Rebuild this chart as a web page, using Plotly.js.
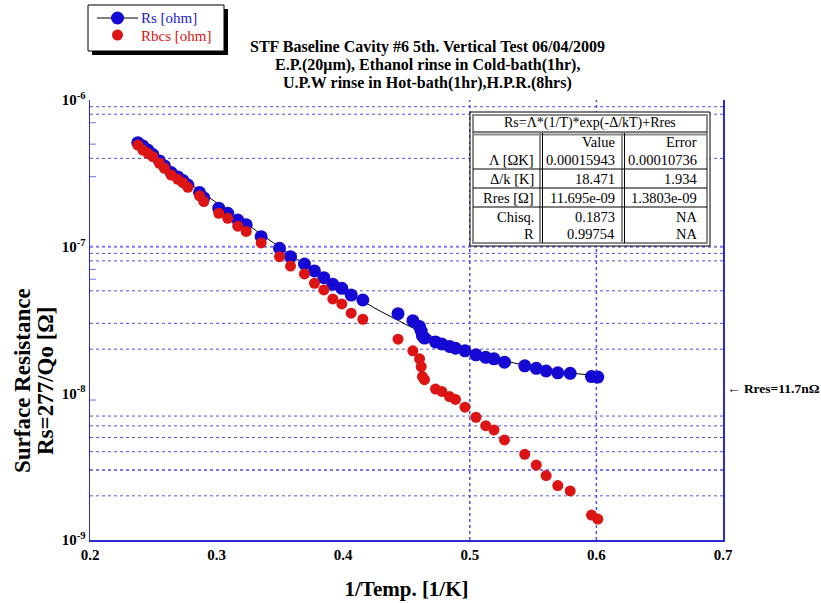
<!DOCTYPE html>
<html>
<head>
<meta charset="utf-8">
<script src="https://cdn.plot.ly/plotly-3.0.1.min.js"></script>
<style>html,body{margin:0;padding:0;background:#fff;}#chart{width:821px;height:603px;}</style>
</head>
<body>
<div id="chart"></div>
<script>
// ---- data ----
const invT = [0.2378,0.2417,0.2457,0.2496,0.2549,0.2588,0.2641,0.2694,0.2733,0.2773,
              0.2865,0.2899,0.3017,0.3088,0.3167,0.3234,0.3352,0.3497,0.3584,0.3694,
              0.3773,0.3847,0.3918,0.3989,0.4063,0.4155,0.4433,0.4550,0.4603,0.4616,
              0.4626,0.4642,0.4729,0.4779,0.4840,0.4887,0.4962,0.5049,0.5126,0.5191,
              0.5274,0.5434,0.5525,0.5603,0.5695,0.5793,0.5961,0.6011];
const rsOhm = [5.12e-7,4.86e-7,4.56e-7,4.25e-7,3.84e-7,3.55e-7,3.20e-7,2.99e-7,2.83e-7,2.63e-7,
               2.34e-7,2.15e-7,1.83e-7,1.69e-7,1.52e-7,1.41e-7,1.17e-7,9.75e-8,8.55e-8,7.62e-8,
               6.83e-8,6.15e-8,5.54e-8,5.20e-8,4.68e-8,4.33e-8,3.49e-8,3.13e-8,2.85e-8,2.66e-8,
               2.46e-8,2.38e-8,2.24e-8,2.17e-8,2.09e-8,2.03e-8,1.95e-8,1.83e-8,1.76e-8,1.72e-8,
               1.63e-8,1.54e-8,1.48e-8,1.42e-8,1.38e-8,1.37e-8,1.30e-8,1.29e-8];
const rbcsOhm = [4.93e-7,4.56e-7,4.33e-7,4.11e-7,3.70e-7,3.42e-7,3.08e-7,2.88e-7,2.73e-7,2.54e-7,
                 2.22e-7,2.03e-7,1.69e-7,1.56e-7,1.38e-7,1.27e-7,1.06e-7,8.55e-8,7.38e-8,6.52e-8,
                 5.63e-8,5.07e-8,4.40e-8,4.07e-8,3.52e-8,3.20e-8,2.34e-8,1.95e-8,1.72e-8,1.52e-8,
                 1.30e-8,1.24e-8,1.07e-8,1.03e-8,9.50e-9,9.09e-9,8.04e-9,6.87e-9,6.02e-9,5.63e-9,
                 4.81e-9,3.84e-9,3.24e-9,2.75e-9,2.35e-9,2.16e-9,1.48e-9,1.39e-9];
const seriesNames = ['Rs [ohm]', 'Rbcs [ohm]'];
// fit parameters (from the fit table)
const fitA = 0.00015943, fitDk = 18.471, fitRres = 11.695e-9;
const fitRange = [0.237, 0.603];
const xTicks = [0.2,0.3,0.4,0.5,0.6,0.7];
const yTickVals = [1e-9,1e-8,1e-7,1e-6];
const yTickText = ['10<sup>-9</sup>','10<sup>-8</sup>','10<sup>-7</sup>','10<sup>-6</sup>'];
const titleLines = ['STF Baseline Cavity #6 5th. Vertical Test 06/04/2009',
                    'E.P.(20μm), Ethanol rinse in Cold-bath(1hr),',
                    'U.P.W rinse in Hot-bath(1hr),H.P.R.(8hrs)'];
const yTitleLines = ['Surface Resistance', 'Rs=277/Qo [Ω]'];
const tableRows = [
  ['', 'Value', 'Error'],
  ['Λ [ΩK]', '0.00015943', '0.00010736'],
  ['Δ/k [K]', '18.471', '1.934'],
  ['Rres [Ω]', '11.695e-09', '1.3803e-09'],
  ['Chisq.', '0.1873', 'NA'],
  ['R', '0.99754', 'NA']
];

// fit curve
const fitX = [], fitY = [];
for (let i = 0; i <= 80; i++) {
  const x = fitRange[0] + (fitRange[1]-fitRange[0])*i/80;
  fitX.push(x); fitY.push(fitA*x*Math.exp(-fitDk*x) + fitRres);
}

// ---- layout helpers (pixel -> paper) ----
const L = 90, R = 723, T = 100, B = 540;
const px = v => (v - L)/(R - L);
const py = v => (B - v)/(B - T);
const lv = v => (Math.log10(v) + 9)/3;

const serif = 'Liberation Serif, Times New Roman, serif';
const blue = '#1508d2', red = '#dc1414', gridC = '#5050e4', axC = '#2a2ad0';

const shapes = [];
const annotations = [];

// horizontal dotted grid lines
const gridVals = [9e-7,8e-7,4e-7,1e-7,9e-8,8e-8,5e-8,3e-8,2e-8,7e-9,6e-9,5e-9,4e-9,3e-9,2e-9];
gridVals.forEach(v => {
  const thick = (v === 1e-7 || v === 3e-9);
  shapes.push({type:'line', xref:'paper', yref:'paper', x0:0, x1:1, y0:lv(v), y1:lv(v),
    layer:'below', line:{color: thick ? '#7a7aee' : gridC, width: thick ? 2 : 1, dash:'dot'}});
});
// vertical dotted grid lines
[0.5, 0.6].forEach(v => {
  shapes.push({type:'line', xref:'x', yref:'paper', x0:v, x1:v, y0:0, y1:1,
    layer:'below', line:{color: gridC, width: 1.5, dash:'dot'}});
});
// minor ticks on left axis
[7e-7,5e-7,3e-7,7e-8,6e-8,9e-9].forEach(v => {
  shapes.push({type:'line', xref:'paper', yref:'paper', x0:0, x1:6/(R-L), y0:lv(v), y1:lv(v),
    layer:'above', line:{color: '#7070ea', width: 1}});
});

// ---- legend box (drawn by hand for exact placement) ----
const rectPx = (x0, y0, x1, y1, extra) => Object.assign({xref:'paper', yref:'paper',
  x0:px(x0), x1:px(x1), y0:py(y1), y1:py(y0), layer:'above'}, extra);
shapes.push(rectPx(92, 9, 228, 55, {type:'rect', fillcolor:'#000', line:{width:0}}));
shapes.push(rectPx(88, 5, 224, 51, {type:'rect', fillcolor:'#fff', line:{color:'#000', width:1}}));
shapes.push(rectPx(97, 18, 138, 18, {type:'line', line:{color:'#000', width:1}}));
shapes.push(rectPx(111, 11.5, 124, 24.5, {type:'circle', fillcolor: blue, line:{width:0}}));
shapes.push(rectPx(112, 29.5, 123, 40.5, {type:'circle', fillcolor: red, line:{width:0}}));
[[seriesNames[0], 18, '#1a1ad0'], [seriesNames[1], 35.5, red]].forEach(([t, y, c]) => {
  annotations.push({xref:'paper', yref:'paper', x:px(139), y:py(y), text:t, showarrow:false,
    xanchor:'left', yanchor:'middle', font:{family: serif, size: 15, color: c}});
});

// ---- fit table ----
const tL = 470, tR = 710, tT = 112, tB = 246, c1 = 540, c2 = 622;
shapes.push(rectPx(tL, tT, tR, tB, {type:'rect', fillcolor:'#fff', line:{color:'#000', width:1}}));
shapes.push(rectPx(tL+3, tT+3, tR-3, tB-3, {type:'rect', line:{color:'#8a8a8a', width:2}}));
shapes.push(rectPx(tL+3, 132, tR-3, 132, {type:'line', line:{color:'#000', width:1}}));
shapes.push(rectPx(tL+3, 134.5, tR-3, 134.5, {type:'line', line:{color:'#8a8a8a', width:2}}));
[c1, c2].forEach(c => {
  shapes.push(rectPx(c, 133, c, tB-3, {type:'line', line:{color:'#8a8a8a', width:2}}));
  shapes.push(rectPx(c+2.5, 133, c+2.5, tB-3, {type:'line', line:{color:'#000', width:1}}));
});
[169, 188, 207].forEach(y => {
  shapes.push(rectPx(tL+3, y, tR-3, y, {type:'line', line:{color:'#000', width:1}}));
});
const tf = {family: serif, size: 14.5, color:'#000'};
annotations.push({xref:'paper', yref:'paper', x:px((tL+tR)/2), y:py(122.5), text:'Rs=Λ*(1/T)*exp(-Δ/kT)+Rres',
  showarrow:false, xanchor:'center', yanchor:'middle', font:{family: serif, size: 14, color:'#000'}});
const rowY = [141.7, 160, 179, 197.7, 216.7, 234.3];
const colX = [536, 617, 699];
tableRows.forEach((row, i) => {
  row.forEach((cell, j) => {
    if (!cell) return;
    annotations.push({xref:'paper', yref:'paper', x:px(colX[j]), y:py(rowY[i]), text:cell,
      showarrow:false, xanchor:'right', yanchor:'middle', font:tf});
  });
});

// title (three lines)
const titleY = [47.5, 65.3, 83.1];
titleLines.forEach((t, i) => {
  annotations.push({xref:'paper', yref:'paper', x:px(427.5), y:py(titleY[i]), text:t,
    showarrow:false, xanchor:'center', yanchor:'middle', borderpad:0,
    font:{family: serif, size: 16, color:'#000', weight:'bold'}});
});
// y axis title (two lines)
const yTitleX = [22, 45];
yTitleLines.forEach((t, i) => {
  annotations.push({xref:'paper', yref:'paper', x:px(yTitleX[i]), y:py(381), text:t, textangle:-90,
    showarrow:false, xanchor:'center', yanchor:'middle',
    font:{family: serif, size: 23, color:'#000', weight:'bold'}});
});
// Rres marker annotation
annotations.push({xref:'paper', yref:'paper', x:px(725), y:py(388), text:'← Rres=11.7nΩ',
  showarrow:false, xanchor:'left', yanchor:'middle',
  font:{family: serif, size: 13.5, color:'#000', weight:'bold'}});

const traces = [
  {x: fitX, y: fitY, mode:'lines', line:{color:'#000', width:1}, hoverinfo:'skip', name:'fit'},
  {x: invT, y: rsOhm, mode:'markers', marker:{color: blue, size: 13}, name: seriesNames[0]},
  {x: invT, y: rbcsOhm, mode:'markers', marker:{color: red, size: 11}, name: seriesNames[1]}
];

const layout = {
  width: 821, height: 603,
  margin: {l: L, r: 821 - R, t: T, b: 603 - B},
  paper_bgcolor:'#fff', plot_bgcolor:'#fff',
  showlegend: false,
  xaxis: {range:[0.2, 0.7], tickvals: xTicks, ticktext: xTicks.map(v => v.toFixed(1)), showgrid:false, zeroline:false,
    showline:true, linecolor: axC, linewidth:1.5, ticks:'', mirror:false,
    tickfont:{family: serif, size: 15, color:'#000', weight:'bold'},
    title:{text:'1/Temp. [1/K]', font:{family: serif, size: 21, color:'#000', weight:'bold'}, standoff: 20}},
  yaxis: {type:'log', range:[-9, -6], tickvals: yTickVals, ticktext: yTickText, showgrid:false, zeroline:false,
    showline:true, linecolor: axC, linewidth:1.5, ticks:'', mirror:true,
    tickfont:{family: serif, size: 15, color:'#000', weight:'bold'}},
  shapes: shapes,
  annotations: annotations
};

Plotly.newPlot('chart', traces, layout, {displayModeBar:false, staticPlot:true});
</script>
</body>
</html>
